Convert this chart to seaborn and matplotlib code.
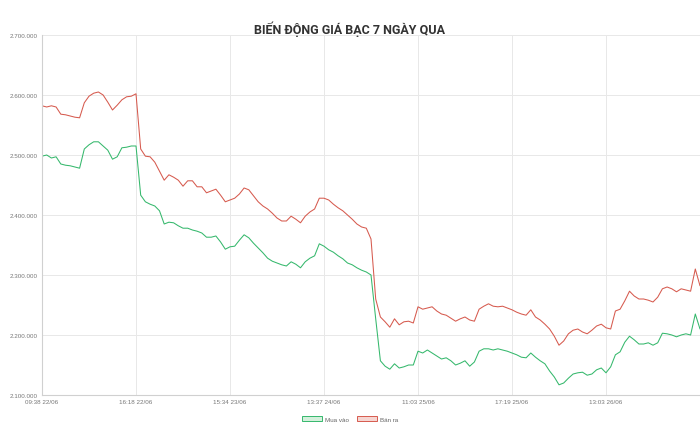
"""
Silver price over the last 7 days (buy vs sell).
"""

import numpy as np
import pandas as pd
import matplotlib.pyplot as plt
import seaborn as sns
from matplotlib.patches import Patch
from matplotlib.ticker import FuncFormatter

# prices in thousands of VND, one point per sample
mua_vao = [
    2498, 2500, 2495, 2497, 2485, 2483, 2482, 2480, 2478, 2510,
    2517, 2522, 2522, 2515, 2508, 2493, 2497, 2512, 2513, 2515,
    2515, 2433, 2422, 2418, 2415, 2407, 2385, 2388, 2387, 2382,
    2378, 2378, 2375, 2373, 2370, 2363, 2363, 2365, 2355, 2343,
    2347, 2348, 2358, 2367, 2362, 2353, 2345, 2337, 2328, 2323,
    2320, 2317, 2315, 2322, 2318, 2312, 2322, 2328, 2332, 2352,
    2348, 2342, 2338, 2332, 2327, 2320, 2317, 2312, 2308, 2305,
    2300, 2227, 2157, 2148, 2143, 2152, 2145, 2147, 2150, 2150,
    2173, 2170, 2175, 2170, 2165, 2160, 2162, 2157, 2150, 2153,
    2157, 2148, 2155, 2173, 2177, 2177, 2175, 2177, 2175, 2173,
    2170, 2167, 2163, 2162, 2170, 2163, 2157, 2152, 2140, 2130,
    2117, 2120, 2128, 2135, 2137, 2138, 2133, 2135, 2142, 2145,
    2137, 2147, 2167, 2172, 2188, 2198, 2192, 2185, 2185, 2187,
    2183, 2187, 2203, 2202, 2200, 2197, 2200, 2202, 2200, 2235,
    2210,
]
ban_ra = [
    2582, 2580, 2582, 2580, 2568, 2567, 2565, 2563, 2562, 2587,
    2598, 2603, 2605, 2600, 2588, 2575, 2583, 2592, 2597, 2598,
    2602, 2510, 2498, 2497, 2488, 2473, 2458, 2467, 2463, 2458,
    2448, 2457, 2457, 2447, 2447, 2437, 2440, 2443, 2433, 2422,
    2425, 2428, 2435, 2445, 2442, 2432, 2422, 2415, 2410, 2403,
    2395, 2390, 2390, 2398, 2393, 2387, 2398, 2405, 2410, 2428,
    2428, 2425, 2418, 2412, 2407, 2400, 2393, 2385, 2380, 2378,
    2360, 2260, 2230, 2222, 2213, 2227, 2217, 2222, 2223, 2220,
    2247, 2243, 2245, 2247, 2240, 2235, 2233, 2228, 2223, 2227,
    2230, 2225, 2223, 2243, 2248, 2252, 2248, 2247, 2248, 2245,
    2242, 2238, 2235, 2233, 2242, 2230, 2225, 2218, 2210, 2198,
    2183, 2190, 2202, 2208, 2210, 2205, 2202, 2208, 2215, 2218,
    2212, 2210, 2240, 2243, 2257, 2273, 2265, 2260, 2260, 2258,
    2255, 2263, 2277, 2280, 2277, 2272, 2277, 2275, 2273, 2310,
    2282,
]
tick_labels = ["09:38 22/06", "16:18 22/06", "15:34 23/06", "13:37 24/06",
               "11:03 25/06", "17:19 25/06", "13:03 26/06"]
tick_step = 20

green = "#35b86c"
red = "#d65a4e"

sns.set_theme(style="whitegrid")
plt.rcParams["font.family"] = ["Liberation Sans", "DejaVu Sans"]

n = len(mua_vao)
df = pd.DataFrame({
    "idx": list(range(n)) * 2,
    "price": [v * 1000 for v in mua_vao] + [v * 1000 for v in ban_ra],
    "series": ["Mua vào"] * n + ["Bán ra"] * n,
})

fig = plt.figure(figsize=(7, 4.31), dpi=100)
ax = fig.add_axes([0.06, 0.0812, 0.94, 0.8353])

sns.lineplot(data=df, x="idx", y="price", hue="series",
             palette={"Mua vào": green, "Bán ra": red},
             linewidth=0.75, legend=False, ax=ax)

ax.set_xlim(0, n - 1)
ax.set_ylim(2100000, 2700000)
ax.set_xticks([i * tick_step for i in range(len(tick_labels))])
ax.set_xticklabels(tick_labels)
ax.set_yticks(np.arange(2100000, 2700001, 100000))
ax.yaxis.set_major_formatter(FuncFormatter(lambda v, p: f"{int(v):,}".replace(",", ".")))
ax.tick_params(axis="both", labelsize=4.5, colors="#777777", length=0, pad=3)
ax.set_xlabel("")
ax.set_ylabel("")
ax.grid(True, color="#e8e8e8", linewidth=0.7)
for side in ["top", "right"]:
    ax.spines[side].set_visible(False)
for side in ["left", "bottom"]:
    ax.spines[side].set_color("#d0d0d0")
    ax.spines[side].set_linewidth(0.8)

fig.text(0.5, 0.933, "BIẾN ĐỘNG GIÁ BẠC 7 NGÀY QUA", ha="center", va="center",
         fontsize=9, fontweight="bold", color="#333333", family=["Roboto", "DejaVu Sans"])

handles = [Patch(facecolor="#d4f0dc", edgecolor=green, linewidth=0.7, label="Mua vào"),
           Patch(facecolor="#f6d6d2", edgecolor=red, linewidth=0.7, label="Bán ra")]
leg = fig.legend(handles=handles, loc="center", bbox_to_anchor=(0.5, 0.026), ncol=2,
                 frameon=False, fontsize=4.5, handlelength=3.2, handleheight=0.9,
                 columnspacing=1.2, handletextpad=0.5)
for t in leg.get_texts():
    t.set_color("#666666")

plt.savefig("out.png", dpi=100)
plt.close()
